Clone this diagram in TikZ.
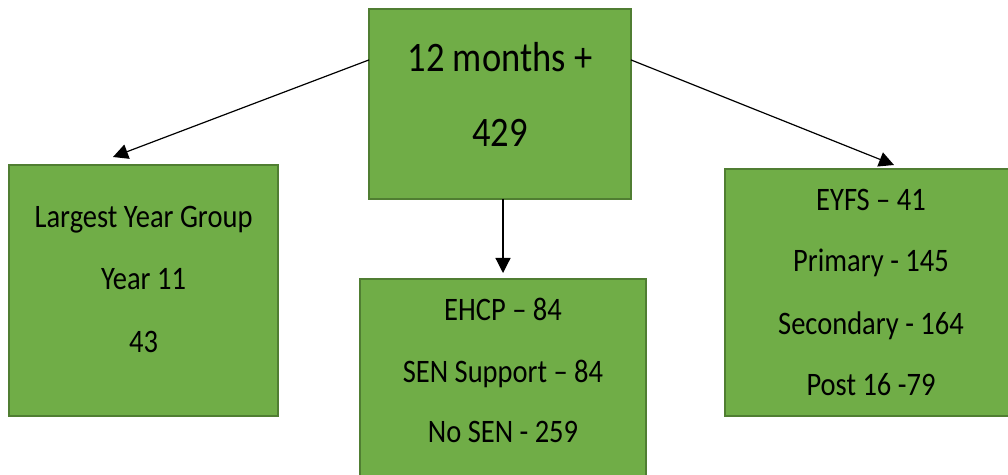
\documentclass[tikz,border=0pt]{standalone}
\usepackage{fontspec}
\setmainfont{Carlito}
\usetikzlibrary{arrows.meta,calc}
\definecolor{boxfill}{HTML}{70AD47}
\definecolor{boxline}{HTML}{507E32}
\begin{document}
\begin{tikzpicture}[x=1pt,y=1pt,
  box/.style={draw=boxline,line width=2pt,fill=boxfill,rectangle,inner sep=0pt,outer sep=0pt},
  txt/.style={anchor=base,inner sep=0pt,yscale=1.15,transform shape,font=\fontsize{28.5}{30}\selectfont},
  bigtxt/.style={txt,font=\fontsize{36.5}{38}\selectfont},
  conn/.style={line width=1.2pt,-{Triangle[length=15pt,width=15pt]}}]
\useasboundingbox (0,0) rectangle (1008,474);
\clip (0,0) rectangle (1008,474);
% boxes
\node[box,minimum width=262pt,minimum height=190pt] (top) at (500,370) {};
\node[box,minimum width=269pt,minimum height=251pt] (left) at (143.5,183.5) {};
\node[box,minimum width=292pt,minimum height=246.5pt] (right) at (871,181.25) {};
\node[box,minimum width=286pt,minimum height=221pt] (bottom) at (503,84.5) {};
% texts
\node[bigtxt] (t1) at (500,402) {12 months +};
\node[bigtxt] (t2) at (500,327) {429};
\node[txt] (l1) at (143.5,246) {Largest Year Group};
\node[txt] (l2) at (143.5,184) {Year 11};
\node[txt] (l3) at (143.5,122) {43};
\node[txt] (r1) at (871,263) {EYFS – 41};
\node[txt] (r2) at (871,202) {Primary - 145};
\node[txt] (r3) at (871,140) {Secondary - 164};
\node[txt] (r4) at (871,79) {Post 16 -79};
\node[txt] (b1) at (503,154) {EHCP – 84};
\node[txt] (b2) at (503,92) {SEN Support – 84};
\node[txt] (b3) at (503,32) {No SEN - 259};
% connectors
\coordinate (ls) at ($(top.north west)!0.268!(top.south west)$);
\coordinate (rs) at ($(top.north east)!0.268!(top.south east)$);
\coordinate (ds) at ($(top.south)+(3,0)$);
\coordinate (le) at ($(left.north)+(-30.5,8)$);
\coordinate (re) at ($(right.north)+(23,4.5)$);
\coordinate (de) at ($(bottom.north)+(0,6)$);
\draw[conn] (ls) -- (le);
\draw[conn] (rs) -- (re);
\draw[conn] (ds) -- (de);
\end{tikzpicture}
\end{document}
